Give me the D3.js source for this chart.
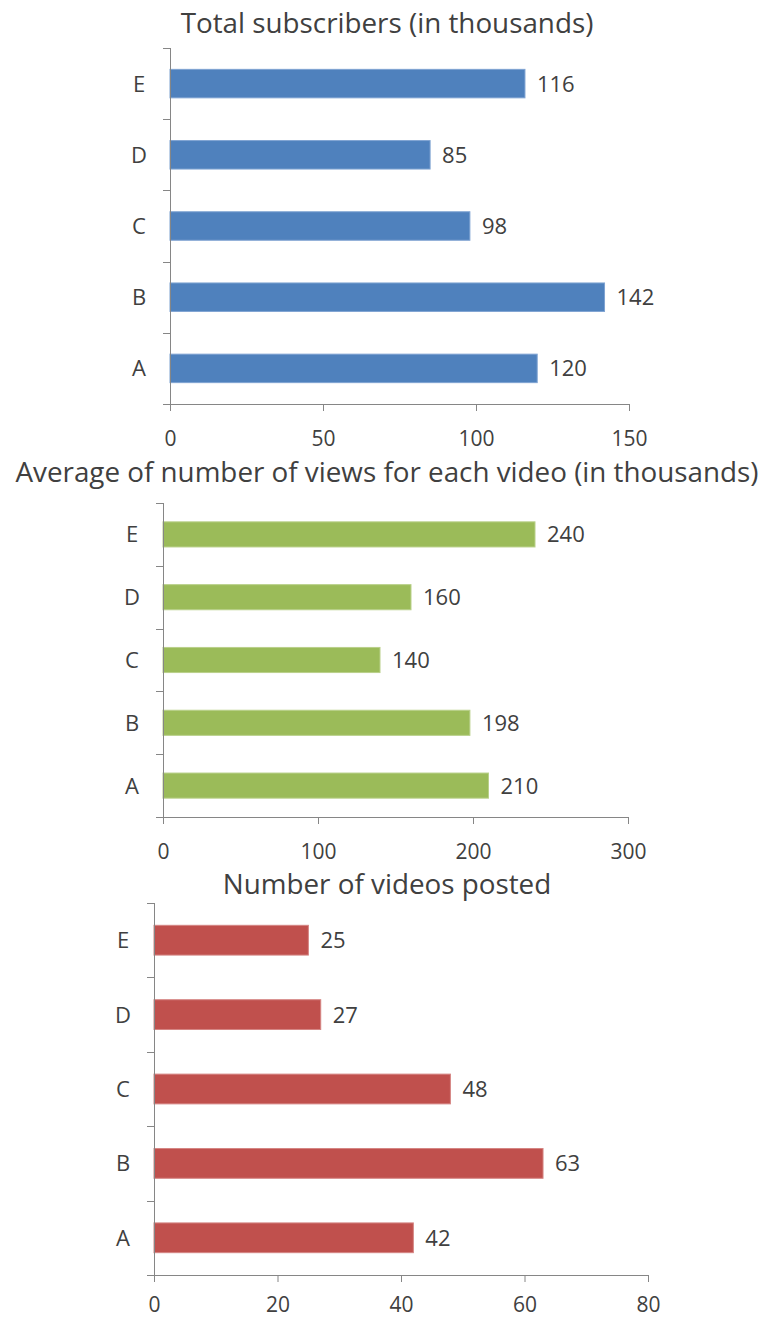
<!DOCTYPE html>
<meta charset="utf-8">
<script src="https://d3js.org/d3.v7.min.js"></script>
<style>
  body { margin: 0; background: #fff; }
  text { font-family: "Open Sans", sans-serif; fill: #404040; }
</style>
<div id="chart"></div>
<script>
// data
var categories = ["A", "B", "C", "D", "E"];
var subscribers = [120, 142, 98, 85, 116];
var avgViews = [210, 198, 140, 160, 240];
var videosPosted = [42, 63, 48, 27, 25];
var subscriberTicks = [0, 50, 100, 150];
var viewTicks = [0, 100, 200, 300];
var videoTicks = [0, 20, 40, 60, 80];
var titles = [
  "Total subscribers (in thousands)",
  "Average of number of views for each video (in thousands)",
  "Number of videos posted"
];

// layout of the three panels
var panels = [
  {title: titles[0], values: subscribers, ticks: subscriberTicks, color: "#4F81BD", stroke: "#7FA3D2",
   left: 170, right: 629, top: 48, bottom: 404, titleY: 33, pad: 20},
  {title: titles[1], values: avgViews, ticks: viewTicks, color: "#9BBB59", stroke: "#B9D08A",
   left: 163, right: 628, top: 503, bottom: 817, titleY: 482, pad: 20},
  {title: titles[2], values: videosPosted, ticks: videoTicks, color: "#C0504D", stroke: "#D58583",
   left: 154, right: 648, top: 903, bottom: 1275, titleY: 894, pad: 15}
];

var svg = d3.select("#chart").append("svg")
  .attr("width", 764)
  .attr("height", 1320);

var axisColor = "#868686";

panels.forEach(function(p) {
  var g = svg.append("g");
  var data = categories.map(function(c, i) { return {cat: c, value: p.values[i]}; });

  var x = d3.scaleLinear()
    .domain([p.ticks[0], p.ticks[p.ticks.length - 1]])
    .range([p.left, p.right]);

  var y = d3.scaleBand()
    .domain(categories.slice().reverse())
    .range([p.top, p.bottom])
    .paddingInner(0.6)
    .paddingOuter(0.3);

  // title
  g.append("text")
    .attr("x", 387)
    .attr("y", p.titleY)
    .attr("text-anchor", "middle")
    .style("font-size", "27.8px")
    .text(p.title);

  // bars
  g.selectAll("rect")
    .data(data)
    .enter().append("rect")
      .attr("x", x(0))
      .attr("y", function(d) { return y(d.cat); })
      .attr("width", function(d) { return x(d.value) - x(0); })
      .attr("height", y.bandwidth())
      .attr("fill", p.color)
      .attr("stroke", p.stroke)
      .attr("stroke-width", 1);

  // value labels
  g.selectAll(".val")
    .data(data)
    .enter().append("text")
      .attr("class", "val")
      .attr("x", function(d) { return x(d.value) + 12; })
      .attr("y", function(d) { return y(d.cat) + y.bandwidth() / 2; })
      .attr("dy", "0.36em")
      .style("font-size", "22px")
      .text(function(d) { return d.value; });

  // x axis
  var xAxis = d3.axisBottom(x)
    .tickValues(p.ticks)
    .tickSize(7)
    .tickSizeOuter(0)
    .tickPadding(p.pad);
  var gx = g.append("g")
    .attr("transform", "translate(0," + p.bottom + ")")
    .call(xAxis);
  gx.select(".domain").attr("stroke", axisColor).attr("d", "M" + (p.left - 7) + ",0.5H" + (p.right + 0.5));
  gx.selectAll(".tick line").attr("stroke", axisColor);
  gx.selectAll(".tick text")
    .style("font-size", "21px")
    .style("font-family", "'Open Sans', sans-serif")
    .attr("fill", "#404040");

  // y axis: line with ticks at band boundaries
  var step = y.step();
  var bounds = d3.range(categories.length + 1).map(function(i) { return p.top + i * step; });
  g.append("line")
    .attr("x1", p.left + 0.5).attr("x2", p.left + 0.5)
    .attr("y1", p.top).attr("y2", p.bottom)
    .attr("stroke", axisColor);
  g.selectAll(".ytick")
    .data(bounds)
    .enter().append("line")
      .attr("class", "ytick")
      .attr("x1", p.left - 7).attr("x2", p.left)
      .attr("y1", function(d) { return Math.round(d) + 0.5; })
      .attr("y2", function(d) { return Math.round(d) + 0.5; })
      .attr("stroke", axisColor);
  g.selectAll(".cat")
    .data(data)
    .enter().append("text")
      .attr("class", "cat")
      .attr("x", p.left - 31)
      .attr("y", function(d) { return y(d.cat) + y.bandwidth() / 2; })
      .attr("dy", "0.36em")
      .attr("text-anchor", "middle")
      .style("font-size", "22px")
      .text(function(d) { return d.cat; });
});
</script>
